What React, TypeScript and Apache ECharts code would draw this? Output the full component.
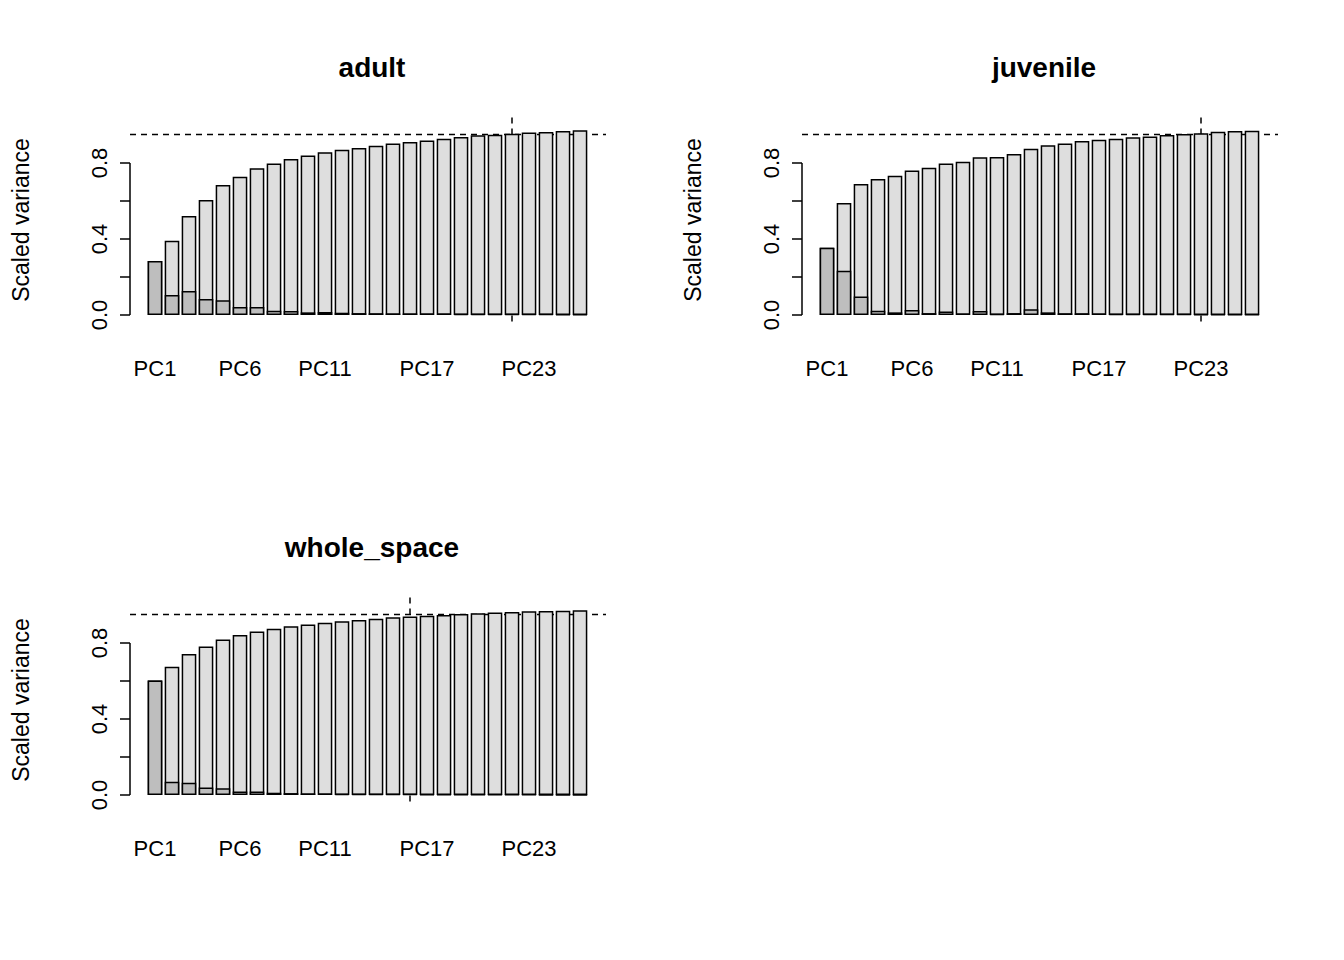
import { useEffect, useRef } from 'react'
import * as echarts from 'echarts'

const pcs = Array.from({ length: 26 }, (_, i) => `PC${i + 1}`)
const shownLabels = [0, 5, 10, 16, 22]

const panelTitles = ['adult', 'juvenile', 'whole_space']

// cumulative scaled variance
const adultCum = [0.284, 0.391, 0.521, 0.605, 0.684, 0.728, 0.772, 0.798, 0.821, 0.839, 0.856, 0.870, 0.879,
  0.891, 0.902, 0.911, 0.919, 0.928, 0.937, 0.946, 0.949, 0.954, 0.960, 0.963, 0.968, 0.972]
const juvenileCum = [0.354, 0.589, 0.689, 0.716, 0.733, 0.761, 0.775, 0.798, 0.807, 0.830, 0.832, 0.847, 0.875,
  0.893, 0.902, 0.916, 0.923, 0.928, 0.935, 0.940, 0.947, 0.953, 0.956, 0.965, 0.968, 0.970]
const wholeCum = [0.602, 0.675, 0.742, 0.782, 0.819, 0.842, 0.861, 0.875, 0.888, 0.898, 0.907, 0.914, 0.921,
  0.928, 0.935, 0.940, 0.944, 0.947, 0.953, 0.956, 0.960, 0.963, 0.967, 0.968, 0.970, 0.972]

// individual scaled variance
const adultInd = [0.284, 0.105, 0.126, 0.084, 0.077, 0.042, 0.042, 0.023, 0.021, 0.014, 0.016, 0.012, 0.010,
  0.009, 0.008, 0.008, 0.007, 0.007, 0.006, 0.006, 0.005, 0.005, 0.004, 0.004, 0.003, 0.003]
const juvenileInd = [0.354, 0.233, 0.098, 0.023, 0.014, 0.026, 0.010, 0.019, 0.007, 0.021, 0.004, 0.010, 0.030,
  0.014, 0.009, 0.009, 0.007, 0.006, 0.005, 0.005, 0.004, 0.004, 0.003, 0.003, 0.002, 0.002]
const wholeInd = [0.602, 0.070, 0.065, 0.039, 0.035, 0.019, 0.018, 0.012, 0.010, 0.008, 0.007, 0.006, 0.005,
  0.005, 0.004, 0.004, 0.003, 0.003, 0.003, 0.002, 0.002, 0.002, 0.002, 0.001, 0.001, 0.001]

const thresholds = [0.95, 0.95, 0.95]
const cutoffPC = [22, 23, 16]

const cumSeries = [adultCum, juvenileCum, wholeCum]
const indSeries = [adultInd, juvenileInd, wholeInd]

const FONT = 'Liberation Sans'
const offsets = [[0, 0], [672, 0], [0, 480]]

export default function App() {
  const chartRef = useRef<HTMLDivElement>(null)

  useEffect(() => {
    document.body.style.margin = '0'
    if (!chartRef.current) return
    const chart = echarts.init(chartRef.current, null, { renderer: 'svg' })

    const grids: any[] = []
    const xAxes: any[] = []
    const yAxes: any[] = []
    const series: any[] = []
    const titles: any[] = []

    offsets.forEach(([dx, dy], p) => {
      grids.push({ left: 146.5 + dx, top: 163 - 152 * 0.2 / 0.8 * 0 + dy - 38, width: 442, height: 190 })
      xAxes.push({
        type: 'category', gridIndex: p, data: pcs,
        axisLine: { show: false }, axisTick: { show: false },
        axisLabel: {
          interval: (i: number) => shownLabels.includes(i),
          fontFamily: FONT, fontSize: 22, color: '#000', margin: 42
        }
      })
      yAxes.push({
        type: 'value', gridIndex: p, min: 0, max: 1, offset: 16.5,
        splitLine: { show: false },
        axisLine: { show: false },
        axisTick: { show: true, length: 10, customValues: [0, 0.2, 0.4, 0.6, 0.8], lineStyle: { color: '#000', width: 1.5 } },
        axisLabel: {
          customValues: [0, 0.4, 0.8], rotate: 90, margin: 20,
          formatter: (v: number) => v.toFixed(1),
          fontFamily: FONT, fontSize: 22, color: '#000'
        },
        name: 'Scaled variance', nameLocation: 'middle', nameGap: 98,
        nameTextStyle: { fontFamily: FONT, fontSize: 23, color: '#000' }
      })
      series.push({
        type: 'bar', xAxisIndex: p, yAxisIndex: p, data: cumSeries[p],
        barCategoryGap: '14%', barGap: '-100%', clip: false,
        itemStyle: { color: '#dedede', borderColor: '#000', borderWidth: 1.5 }
      })
      series.push({
        type: 'bar', xAxisIndex: p, yAxisIndex: p, data: indSeries[p],
        barCategoryGap: '14%', barGap: '-100%', clip: false,
        itemStyle: { color: '#bebebe', borderColor: '#000', borderWidth: 1.5 }
      })
      titles.push({
        text: panelTitles[p], left: 367 + dx, top: 48 + dy, textAlign: 'center',
        textStyle: { fontFamily: FONT, fontSize: 28, fontWeight: 'bold', color: '#000' }
      })
    })

    chart.setOption({
      animation: false,
      backgroundColor: '#fff',
      title: titles,
      grid: grids,
      xAxis: xAxes,
      yAxis: yAxes,
      series
    })

    // decorative lines computed from the axes' scales
    const graphics: any[] = []
    offsets.forEach(([dx], p) => {
      const y0 = chart.convertToPixel({ yAxisIndex: p }, 0)
      const y08 = chart.convertToPixel({ yAxisIndex: p }, 0.8)
      const yTh = chart.convertToPixel({ yAxisIndex: p }, thresholds[p])
      const yTop = chart.convertToPixel({ yAxisIndex: p }, 1.04)
      const xCut = chart.convertToPixel({ xAxisIndex: p }, `PC${cutoffPC[p]}`)
      const axisX = 130 + dx
      graphics.push({ type: 'line', shape: { x1: axisX, y1: y0, x2: axisX, y2: y08 }, style: { stroke: '#000', lineWidth: 1.5 } })
      graphics.push({ type: 'line', shape: { x1: axisX, y1: yTh, x2: axisX + 476, y2: yTh }, style: { stroke: '#000', lineWidth: 1.5, lineDash: [6, 5] } })
      graphics.push({ type: 'line', shape: { x1: xCut, y1: yTop, x2: xCut, y2: y0 + 8 }, style: { stroke: '#000', lineWidth: 1.5, lineDash: [6, 5] } })
    })
    chart.setOption({ graphic: graphics })

    return () => {
      chart.dispose()
    }
  }, [])

  return <div ref={chartRef} style={{ width: 1344, height: 960 }} />
}
